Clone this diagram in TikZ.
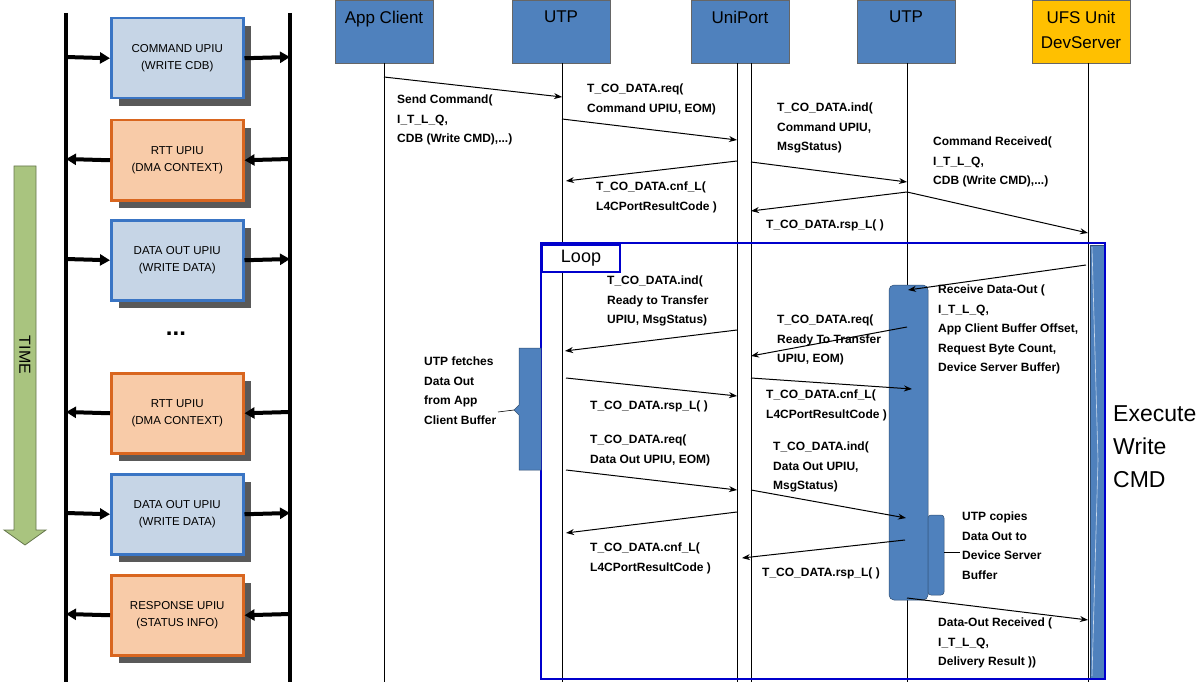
\documentclass[tikz,border=0pt]{standalone}
\usepackage{fontspec}
\setmainfont{Liberation Sans}
\usetikzlibrary{arrows.meta}
\definecolor{hdr}{HTML}{4F81BD}
\definecolor{ufs}{HTML}{FFC000}
\definecolor{bfill}{HTML}{C6D5E6}
\definecolor{bline}{HTML}{3A75C4}
\definecolor{ofill}{HTML}{F8CBA8}
\definecolor{oline}{HTML}{D9661F}
\definecolor{loopc}{HTML}{0000CC}
\definecolor{timec}{HTML}{A9C47F}
\begin{document}
\begin{tikzpicture}[x=1pt,y=-1pt,
  hbox/.style={draw=black!60,fill=hdr,minimum width=98pt,minimum height=63pt,anchor=north,inner sep=0pt},
  htxt/.style={anchor=north,align=center,inner sep=0pt,font=\fontsize{17}{25}\selectfont},
  msg/.style={-{Stealth[length=8pt,width=6pt]},line width=1pt},
  lbl/.style={anchor=north west,align=left,inner sep=0pt,font=\fontsize{12}{19.5}\selectfont\bfseries},
  life/.style={line width=0.6pt},
  upiu/.style={minimum width=132pt,minimum height=80pt,line width=2.5pt,align=center,font=\fontsize{11.5}{17}\selectfont,anchor=north west},
  shad/.style={fill=black!65,draw=none},
  bar/.style={fill=hdr,draw=hdr!60!black,line width=0.5pt},
  thick4/.style={line width=4pt},
  larr/.style={-{Triangle[length=10pt,width=11pt]},line width=4pt}]
\useasboundingbox (0,0) rectangle (1200,682);
% ---------- left panel
\draw[thick4] (66,13) -- (66,682);
\draw[thick4] (290,13) -- (290,682);
\foreach \y/\t/\k in {17/{COMMAND UPIU\\(WRITE CDB)}/b,119/{RTT UPIU\\(DMA CONTEXT)}/o,219/{DATA OUT UPIU\\(WRITE DATA)}/b,372/{RTT UPIU\\(DMA CONTEXT)}/o,473/{DATA OUT UPIU\\(WRITE DATA)}/b,574/{RESPONSE UPIU\\(STATUS INFO)}/o}{
  \fill[shad] (119,\y+9) rectangle (251,\y+89);
  \if\k b
    \node[upiu,draw=bline,fill=bfill] (u\y) at (110,\y) {\t};
    \draw[larr] (66,\y+40) -- (u\y.west);
    \draw[larr] (u\y.east) -- (290,\y+40);
  \else
    \node[upiu,draw=oline,fill=ofill] (u\y) at (110,\y) {\t};
    \draw[larr] (290,\y+40) -- (u\y.east);
    \draw[larr] (u\y.west) -- (66,\y+40);
  \fi
}
\node[font=\fontsize{24}{24}\selectfont\bfseries] (dots) at (176,334) {...};
\draw[fill=timec,draw=timec!60!black,line width=0.8pt] (14,166) -- (36,166) -- (36,530) -- (46,530) -- (25,545) -- (4,530) -- (14,530) -- cycle;
\node[rotate=-90,font=\fontsize{16}{16}\selectfont] (time) at (25,355) {TIME};
% ---------- headers
\node[hbox] (ac) at (384,0) {};
\node[hbox] (utp1) at (561,0) {};
\node[hbox] (up) at (740,0) {};
\node[hbox] (utp2) at (906,0) {};
\node[hbox,fill=ufs] (ufs) at (1081,0) {};
\node[htxt] (tac) at (384,11) {App Client};
\node[htxt] (tutp1) at (561,11) {UTP};
\node[htxt] (tup) at (740,11) {UniPort};
\node[htxt] (tutp2) at (906,11) {UTP};
\node[htxt] (tufs) at (1081,11) {UFS Unit\\DevServer};
\draw[life] (384,63) -- (384,682);
\draw[life] (562,63) -- (562,682);
\draw[life] (737,63) -- (737,682);
\draw[life] (751,63) -- (751,682);
\draw[life] (907,63) -- (907,682);
\draw[life] (1088,63) -- (1088,682);
% ---------- loop frame
\draw[bar] (1090,245) rectangle (1105,678);
\draw[white!70!hdr,line width=0.6pt] (1092,247) -- (1098,460) -- (1092,676);
\draw[loopc,line width=2.5pt] (541,243) rectangle (1105,679);
\node[draw=loopc,line width=2pt,fill=white,anchor=north west,minimum width=78pt,minimum height=27pt,font=\fontsize{18}{18}\selectfont] (loop) at (541,244) {Loop};
\node[anchor=north west,align=left,inner sep=0pt,font=\fontsize{23}{33}\selectfont] (exec) at (1113,405) {Execute\\Write\\CMD};
% activation bars
\draw[bar,rounded corners=5pt] (889,285) rectangle (928,600);
\draw[bar,rounded corners=3pt] (928,515) rectangle (944,595);
\draw[bar] (519,348) -- (541,348) -- (541,470) -- (519,470) -- (519,415) -- (514,410) -- (519,405) -- cycle;
\draw[line width=0.6pt] (498,412) -- (514,410);
\draw[line width=0.6pt] (944,552) -- (960,552);
% ---------- coordinates & messages
\coordinate (m1a) at (384,77); \coordinate (m1b) at (562,97);
\draw[msg] (m1a) -- (m1b);
\node[lbl] (l1) at (397,95) {Send Command(\\I\_T\_L\_Q,\\CDB (Write CMD),...)};
\coordinate (m2a) at (562,119); \coordinate (m2b) at (737,140);
\draw[msg] (m2a) -- (m2b);
\node[lbl] (l2) at (587,84) {T\_CO\_DATA.req(\\Command UPIU, EOM)};
\coordinate (m3a) at (751,162); \coordinate (m3b) at (907,182);
\draw[msg] (m3a) -- (m3b);
\node[lbl] (l3) at (777,103) {T\_CO\_DATA.ind(\\Command UPIU,\\MsgStatus)};
\coordinate (m4a) at (737,161); \coordinate (m4b) at (566,181);
\draw[msg] (m4a) -- (m4b);
\node[lbl] (l4) at (596,182) {T\_CO\_DATA.cnf\_L(\\L4CPortResultCode )};
\coordinate (m5a) at (907,192); \coordinate (m5b) at (751,211);
\draw[msg] (m5a) -- (m5b);
\node[lbl] (l5) at (766,220) {T\_CO\_DATA.rsp\_L( )};
\coordinate (m6b) at (1088,233);
\draw[msg] (m5a) -- (m6b);
\node[lbl] (l6) at (933,137) {Command Received(\\I\_T\_L\_Q,\\CDB (Write CMD),...)};
% loop
\coordinate (m7a) at (1086,265); \coordinate (m7b) at (908,290);
\draw[msg] (m7a) -- (m7b);
\node[lbl] (l7) at (938,285) {Receive Data-Out (\\I\_T\_L\_Q,\\App Client Buffer Offset,\\Request Byte Count,\\Device Server Buffer)};
\coordinate (m8a) at (907,327); \coordinate (m8b) at (751,356);
\draw[msg] (m8a) -- (m8b);
\node[lbl] (l8) at (777,315) {T\_CO\_DATA.req(\\Ready To Transfer\\UPIU, EOM)};
\coordinate (m9a) at (737,330); \coordinate (m9b) at (565,351);
\draw[msg] (m9a) -- (m9b);
\node[lbl] (l9) at (607,276) {T\_CO\_DATA.ind(\\Ready to Transfer\\UPIU, MsgStatus)};
\node[lbl] (lf) at (424,357) {UTP fetches\\Data Out\\from App\\Client Buffer};
\coordinate (m10a) at (566,378); \coordinate (m10b) at (737,396);
\draw[msg] (m10a) -- (m10b);
\node[lbl] (l10) at (590,401) {T\_CO\_DATA.rsp\_L( )};
\coordinate (m11a) at (751,378); \coordinate (m11b) at (912,389);
\draw[msg] (m11a) -- (m11b);
\node[lbl] (l11) at (766,390) {T\_CO\_DATA.cnf\_L(\\L4CPortResultCode )};
\coordinate (m12a) at (566,470); \coordinate (m12b) at (737,490);
\draw[msg] (m12a) -- (m12b);
\node[lbl] (l12) at (590,435) {T\_CO\_DATA.req(\\Data Out UPIU, EOM)};
\coordinate (m13a) at (751,490); \coordinate (m13b) at (906,518);
\draw[msg] (m13a) -- (m13b);
\node[lbl] (l13) at (773,442) {T\_CO\_DATA.ind(\\Data Out UPIU,\\MsgStatus)};
\coordinate (m14a) at (737,512); \coordinate (m14b) at (566,533);
\draw[msg] (m14a) -- (m14b);
\node[lbl] (l14) at (590,543) {T\_CO\_DATA.cnf\_L(\\L4CPortResultCode )};
\coordinate (m15a) at (905,540); \coordinate (m15b) at (742,558);
\draw[msg] (m15a) -- (m15b);
\node[lbl] (l15) at (762,568) {T\_CO\_DATA.rsp\_L( )};
\node[lbl] (lc) at (962,512) {UTP copies\\Data Out to\\Device Server\\Buffer};
\coordinate (m16a) at (907,598); \coordinate (m16b) at (1088,620);
\draw[msg] (m16a) -- (m16b);
\node[lbl] (l16) at (938,618) {Data-Out Received (\\I\_T\_L\_Q,\\Delivery Result ))};
\end{tikzpicture}
\end{document}
